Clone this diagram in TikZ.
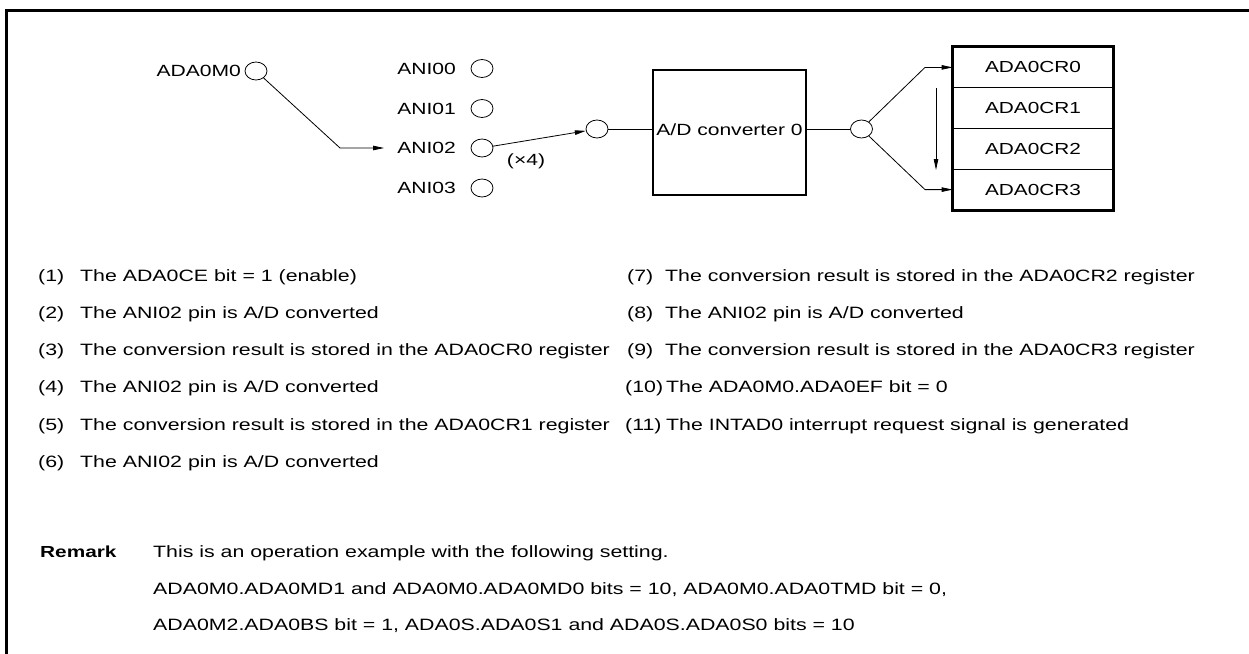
\documentclass[tikz,border=0pt]{standalone}
\usepackage{fontspec}
\setmainfont{Liberation Sans}[FakeStretch=1.3]
\usetikzlibrary{arrows.meta,shapes.geometric}
\tikzset{
  thin line/.style={line width=0.8pt},
  thick line/.style={line width=2.6pt},
  arr/.style={thin line,-{Triangle[length=11pt,width=4.5pt]}},
  lbl/.style={font=\fontsize{16.2}{19}\selectfont, inner sep=0pt, text height=11.7pt, text depth=0pt},
  txt/.style={font=\fontsize{16.4}{20}\selectfont, inner sep=0pt, text height=12pt, text depth=0pt, anchor=west},
  pin/.style={ellipse, draw, thin line, minimum width=22pt, minimum height=18pt, inner sep=0pt},
  reg/.style={draw, thin line, minimum width=160pt, minimum height=40.75pt, inner sep=0pt, font=\fontsize{16}{19}\selectfont}
}
\begin{document}
\begin{tikzpicture}[x=1pt,y=-1pt]
\useasboundingbox (0,0) rectangle (1249,653);
\begin{scope}
\clip (0,0) rectangle (1249,653);
\draw[thick line] (6.5,10.5) rectangle (1270,680);
\end{scope}
% input pins
\node[lbl, anchor=east] (tm0) at (241,71) {ADA0M0};
\node[pin] (m0) at (256,71) {};
\node[lbl, anchor=east] (ta0) at (456,68.5) {ANI00};
\node[pin] (p0) at (482,68.5) {};
\node[lbl, anchor=east] (ta1) at (456,108.5) {ANI01};
\node[pin] (p1) at (482,108.5) {};
\node[lbl, anchor=east] (ta2) at (456,148) {ANI02};
\node[pin] (p2) at (482,148) {};
\node[lbl, anchor=east] (ta3) at (456,188) {ANI03};
\node[pin] (p3) at (482,188) {};
\coordinate (bend) at (340,148);
\draw[arr] (m0) -- (bend) -- ([xshift=-13pt]ta2.west);
% converter
\node[pin] (c1) at (597,129) {};
\draw[arr] (p2) -- (c1);
\node[lbl] (x4) at (526,160) {(×4)};
\node[draw, thick line, minimum width=153pt, minimum height=125pt, inner sep=0pt] (adc) at (729.5,132.5) {};
\node[lbl] (adct) at (729.5,130) {A/D converter 0};
\draw[thin line] (c1) -- (c1 -| adc.west);
\node[pin] (c2) at (861.5,129) {};
\draw[thin line] (adc.east |- c2) -- (c2);
% registers
\node[reg] (r0) at (1033,67.4) {ADA0CR0};
\node[reg] (r1) at (1033,108.1) {ADA0CR1};
\node[reg] (r2) at (1033,148.9) {ADA0CR2};
\node[reg] (r3) at (1033,189.6) {ADA0CR3};
\draw[thick line] (r0.north west) rectangle (r3.south east);
\coordinate (u1) at (925,67.4);
\coordinate (d1) at (925,189.6);
\draw[arr] (c2) -- (u1) -- (r0.west);
\draw[arr] (c2) -- (d1) -- (r3.west);
\coordinate (va) at (936,88);
\coordinate (vb) at (936,170);
\draw[arr] (va) -- (vb);
% list left
\node[txt] (n1) at (38,275) {(1)};  \node[txt] (t1) at (80,275) {The ADA0CE bit = 1 (enable)};
\node[txt] (n2) at (38,312) {(2)};  \node[txt] (t2) at (80,312) {The ANI02 pin is A/D converted};
\node[txt] (n3) at (38,349) {(3)};  \node[txt] (t3) at (80,349) {The conversion result is stored in the ADA0CR0 register};
\node[txt] (n4) at (38,386.5) {(4)};  \node[txt] (t4) at (80,386.5) {The ANI02 pin is A/D converted};
\node[txt] (n5) at (38,424) {(5)};  \node[txt] (t5) at (80,424) {The conversion result is stored in the ADA0CR1 register};
\node[txt] (n6) at (38,461) {(6)};  \node[txt] (t6) at (80,461) {The ANI02 pin is A/D converted};
% list right
\node[txt] (n7) at (627,275) {(7)};  \node[txt] (t7) at (665,275) {The conversion result is stored in the ADA0CR2 register};
\node[txt] (n8) at (627,312) {(8)};  \node[txt] (t8) at (665,312) {The ANI02 pin is A/D converted};
\node[txt] (n9) at (627,349) {(9)};  \node[txt] (t9) at (665,349) {The conversion result is stored in the ADA0CR3 register};
\node[txt] (n10) at (625,386.5) {(10)};  \node[txt] (t10) at (666,386.5) {The ADA0M0.ADA0EF bit = 0};
\node[txt] (n11) at (625,424) {(11)};  \node[txt] (t11) at (666,424) {The INTAD0 interrupt request signal is generated};
% remark
\node[txt, font=\fontsize{16}{20}\selectfont\bfseries] (rm) at (40,551) {Remark};
\node[txt] (rm1) at (153,551) {This is an operation example with the following setting.};
\node[txt] (rm2) at (153,588) {ADA0M0.ADA0MD1 and ADA0M0.ADA0MD0 bits = 10, ADA0M0.ADA0TMD bit = 0,};
\node[txt] (rm3) at (153,624) {ADA0M2.ADA0BS bit = 1, ADA0S.ADA0S1 and ADA0S.ADA0S0 bits = 10};
\end{tikzpicture}
\end{document}
